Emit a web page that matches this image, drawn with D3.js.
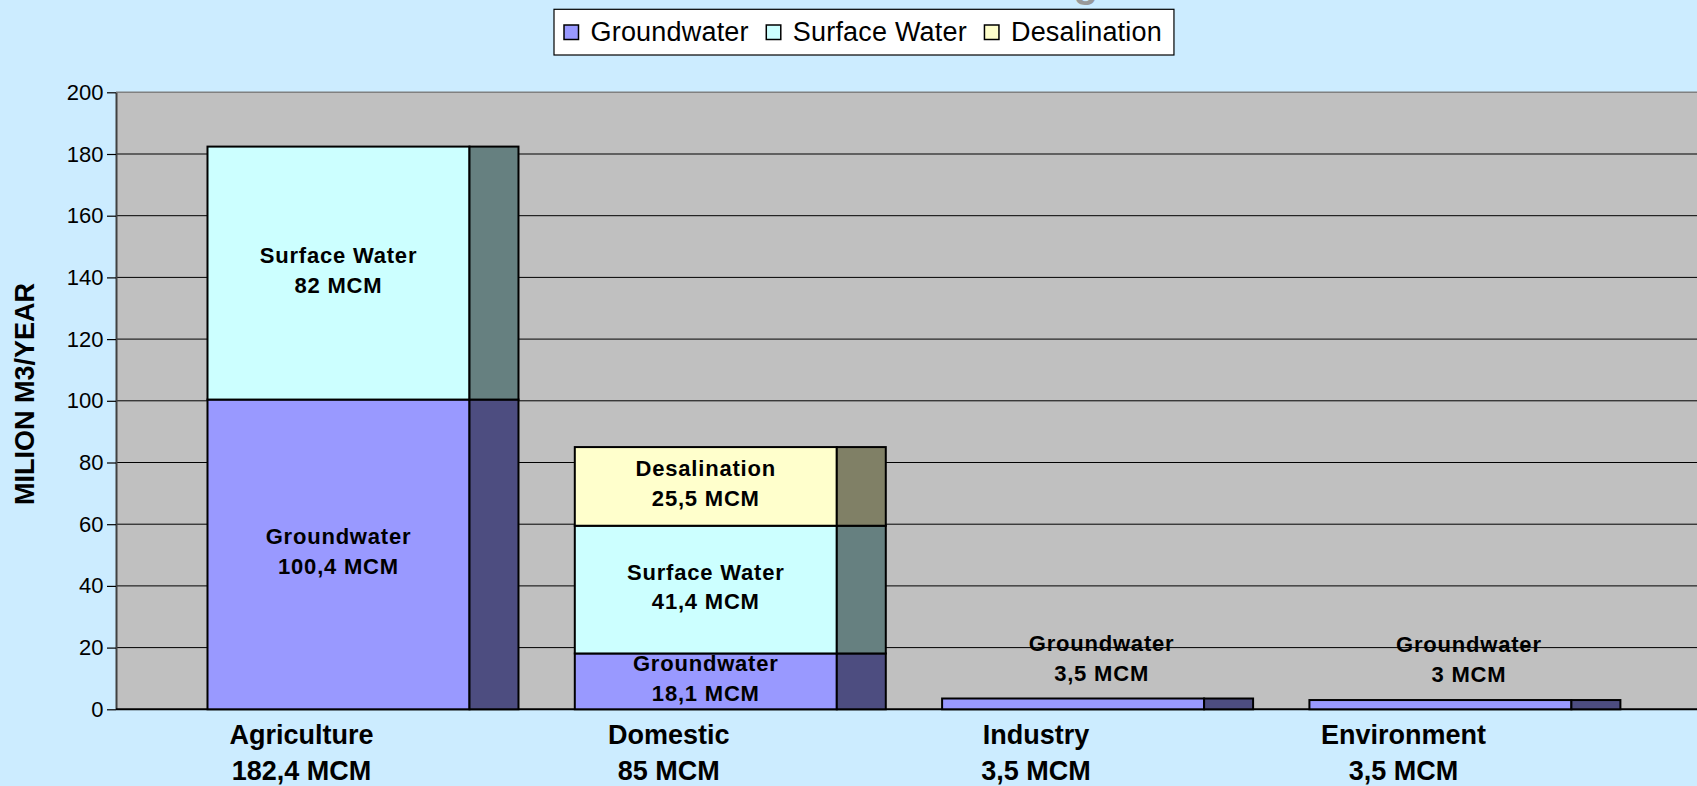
<!DOCTYPE html>
<html><head><meta charset="utf-8">
<script src="https://cdn.jsdelivr.net/npm/d3@7"></script>
<style>
html,body{margin:0;padding:0;background:#CCECFF;}
svg{display:block;font-family:"Liberation Sans",Arial,sans-serif;}
</style></head><body>
<svg id="chart" width="1697" height="786"></svg>
<script>
// ---- data ----
const categories = ["Agriculture", "Domestic", "Industry", "Environment"];
const categoryTotals = ["182,4 MCM", "85 MCM", "3,5 MCM", "3,5 MCM"];
const seriesNames = ["Groundwater", "Surface Water", "Desalination"];
const groundwater = [100.4, 18.1, 3.5, 3];
const surfaceWater = [82, 41.4, 0, 0];
const desalination = [0, 25.5, 0, 0];
const yTicks = [0, 20, 40, 60, 80, 100, 120, 140, 160, 180, 200];
const yTitle = "MILION M3/YEAR";

// ---- layout / style ----
const W = 1697, H = 786;
const plot = {left: 116, top: 92.3, bottom: 709.3, right: 1697};
const frontColors = ["#9999FF", "#CCFFFF", "#FFFFCC"];
const sideColors = ["#4D4D80", "#668080", "#808066"];

const svg = d3.select("#chart");
svg.append("rect").attr("width", W).attr("height", H).attr("fill", "#CCECFF");

const rows = categories.map((c, i) => ({
  cat: c,
  "Groundwater": groundwater[i],
  "Surface Water": surfaceWater[i],
  "Desalination": desalination[i]
}));
const stacked = d3.stack().keys(seriesNames)(rows);

const y = d3.scaleLinear().domain([0, 200]).range([plot.bottom, plot.top]);
const x = d3.scaleBand().domain(categories).range([plot.left, 1662.9])
  .paddingInner(0.2867).paddingOuter(0.2491);
const bw = x.bandwidth();
const depth = bw * 0.187;
const fmt = v => d3.format("~f")(v).replace(".", ",") + " MCM";

// plot background
svg.append("rect").attr("x", plot.left).attr("y", plot.top)
  .attr("width", plot.right - plot.left).attr("height", plot.bottom - plot.top)
  .attr("fill", "#C0C0C0");

// gridlines
svg.append("g").selectAll("line").data(yTicks.filter(t => t > 0)).join("line")
  .attr("x1", plot.left).attr("x2", plot.right)
  .attr("y1", d => y(d)).attr("y2", d => y(d))
  .attr("stroke", d => d === 200 ? "#808080" : "#000").attr("stroke-width", d => d === 200 ? 1.5 : 1);

// y axis
const yAxis = svg.append("g").attr("transform", `translate(${plot.left},0)`)
  .call(d3.axisLeft(y).tickValues(yTicks).tickSize(9).tickSizeOuter(0).tickPadding(3.5));
yAxis.select(".domain").attr("stroke", "#404040").attr("stroke-width", 2);
yAxis.selectAll(".tick line").attr("stroke", "#000").attr("stroke-width", 1.2);
yAxis.selectAll(".tick text").attr("font-size", 22).attr("fill", "#000")
  .attr("font-family", "Liberation Sans, Arial, sans-serif");

// baseline
svg.append("line").attr("x1", plot.left).attr("x2", plot.right)
  .attr("y1", y(0)).attr("y2", y(0)).attr("stroke", "#000").attr("stroke-width", 2);

// bars
const layers = svg.append("g").selectAll("g").data(stacked).join("g");
layers.each(function (layer, li) {
  const g = d3.select(this);
  const segs = layer.filter(d => d[1] - d[0] > 0);
  g.selectAll("rect.front").data(segs).join("rect").attr("class", "front")
    .attr("x", d => x(d.data.cat)).attr("y", d => y(d[1]))
    .attr("width", bw).attr("height", d => y(d[0]) - y(d[1]))
    .attr("fill", frontColors[li]).attr("stroke", "#000").attr("stroke-width", 2);
  g.selectAll("rect.side").data(segs).join("rect").attr("class", "side")
    .attr("x", d => x(d.data.cat) + bw).attr("y", d => y(d[1]))
    .attr("width", depth).attr("height", d => y(d[0]) - y(d[1]))
    .attr("fill", sideColors[li]).attr("stroke", "#000").attr("stroke-width", 2);
});

// data labels
const labelG = svg.append("g").attr("font-weight", "bold").attr("font-size", 22)
  .attr("letter-spacing", 0.8).attr("text-anchor", "middle").attr("fill", "#000");
stacked.forEach((layer, li) => {
  layer.forEach(d => {
    const v = d[1] - d[0];
    if (v <= 0) return;
    const hpx = y(d[0]) - y(d[1]);
    let cx, c1, c2;
    if (hpx < 30) {
      cx = x(d.data.cat) + (bw + depth) / 2 + 4;
      c2 = y(d[1]) - 26;
      c1 = c2 - 30;
    } else {
      cx = x(d.data.cat) + bw / 2;
      const mid = (y(d[0]) + y(d[1])) / 2;
      c1 = mid - 18; c2 = mid + 11.5;
    }
    labelG.append("text").attr("x", cx).attr("y", c1 + 8).text(seriesNames[li]);
    labelG.append("text").attr("x", cx).attr("y", c2 + 8).text(fmt(v));
  });
});

// category labels
const catG = svg.append("g").attr("font-weight", "bold").attr("font-size", 27)
  .attr("text-anchor", "middle").attr("fill", "#000");
categories.forEach((c, i) => {
  const cx = x(c) + bw / 2 - 37;
  catG.append("text").attr("x", cx).attr("y", 744).text(c);
  catG.append("text").attr("x", cx).attr("y", 780).text(categoryTotals[i]);
});

// y title
svg.append("text").attr("transform", `translate(${33.5},${394}) rotate(-90)`)
  .attr("text-anchor", "middle").attr("font-weight", "bold").attr("font-size", 27)
  .attr("fill", "#000").text(yTitle);

// title fragment (cut off at top)
svg.append("text").attr("x", 1086).attr("y", -3).attr("text-anchor", "middle")
  .attr("font-weight", "bold").attr("font-size", 40).attr("fill", "#999").text("g");

// legend
const leg = svg.append("g");
const legBox = leg.append("rect").attr("x", 554).attr("y", 9.3).attr("height", 45.7)
  .attr("fill", "#fff").attr("stroke", "#000").attr("stroke-width", 1.2);
let lx = 564;
seriesNames.forEach((s, i) => {
  leg.append("rect").attr("x", lx).attr("y", 25).attr("width", 14.5).attr("height", 14.5)
    .attr("fill", frontColors[i]).attr("stroke", "#000").attr("stroke-width", 1.5);
  const t = leg.append("text").attr("x", lx + 26.5).attr("y", 41).attr("font-size", 27)
    .attr("letter-spacing", 0.2).attr("fill", "#000").text(s);
  lx = lx + 26.5 + t.node().getComputedTextLength() + 17.5;
});
legBox.attr("width", lx - 17.5 + 12 - 554);
</script>
</body></html>
